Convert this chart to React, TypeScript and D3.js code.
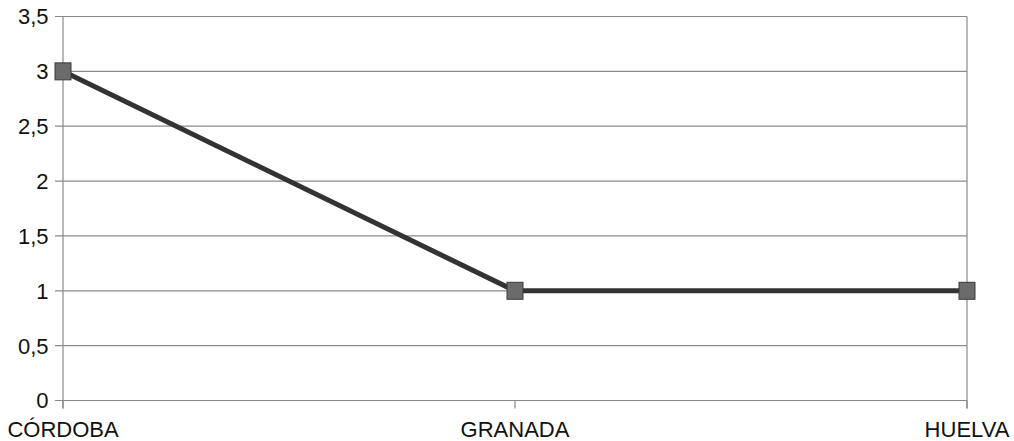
import React from "react";
import * as d3 from "d3";

const categories = ["CÓRDOBA", "GRANADA", "HUELVA"];
const values = [3, 1, 1];
const yTicks = [0, 0.5, 1, 1.5, 2, 2.5, 3, 3.5];
const yTickLabels = ["0", "0,5", "1", "1,5", "2", "2,5", "3", "3,5"];

export default function App() {
  const W = 1014, H = 441;
  const left = 63, right = 967, top = 16.5, bottom = 400.5;
  const x = d3.scalePoint<string>().domain(categories).range([left, right]).padding(0);
  const y = d3.scaleLinear().domain([0, 3.5]).range([bottom, top]);
  const line = d3.line<number>().x((_, i) => x(categories[i])!).y((d) => y(d));
  const font = "'Liberation Sans', Arial, sans-serif";
  return (
    <svg width={W} height={H} style={{ position: "absolute", left: 0, top: 0 }}>
      <rect width={W} height={H} fill="#fff" />
      {yTicks.map((t, i) => (
        <g key={t}>
          <line x1={left - 8} x2={right} y1={y(t)} y2={y(t)} stroke="#8a8a8a" strokeWidth={1.2} />
          <text x={48.5} y={y(t)} dy="0.36em" textAnchor="end" fontFamily={font} fontSize={22} fill="#111">
            {yTickLabels[i]}
          </text>
        </g>
      ))}
      <line x1={left} x2={left} y1={top} y2={bottom + 8} stroke="#8a8a8a" strokeWidth={1.2} />
      <line x1={right} x2={right} y1={top} y2={bottom + 8} stroke="#8a8a8a" strokeWidth={1.2} />
      {categories.map((c) => (
        <g key={c}>
          <line x1={x(c)!} x2={x(c)!} y1={bottom} y2={bottom + 8} stroke="#8a8a8a" strokeWidth={1.2} />
          <text x={x(c)!} y={437} textAnchor="middle" fontFamily={font} fontSize={22} fill="#111">
            {c}
          </text>
        </g>
      ))}
      <path d={line(values) || ""} fill="none" stroke="#333" strokeWidth={5} />
      {values.map((v, i) => (
        <rect key={i} x={x(categories[i])! - 8} y={y(v) - 8.5} width={16} height={17} fill="#6b6b6b" stroke="#3a3a3a" strokeWidth={1} />
      ))}
    </svg>
  );
}
